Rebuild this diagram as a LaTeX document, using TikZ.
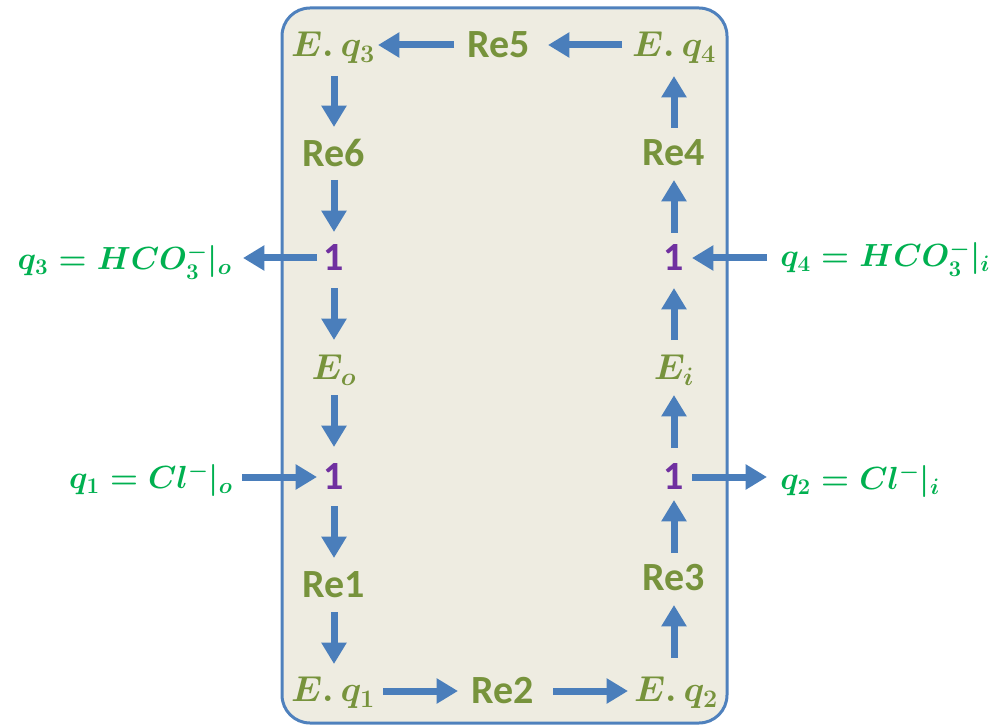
\RequirePackage{fix-cm}
\documentclass[tikz,border=0pt]{standalone}
\usepackage{fontspec}
\usetikzlibrary{arrows.meta}
\newfontfamily\calfont{Carlito}
\definecolor{arrowblue}{HTML}{4A7EBB}
\definecolor{boxblue}{HTML}{4F81BD}
\definecolor{boxfill}{HTML}{EEECE1}
\definecolor{olivetxt}{HTML}{77933C}
\definecolor{greentxt}{HTML}{00B050}
\definecolor{purptxt}{HTML}{7030A0}
\tikzset{
  bx/.style={draw=boxblue, line width=2.25pt, fill=boxfill, rounded corners=21pt},
  arr/.style={draw=arrowblue, line width=5.25pt, -{Triangle[length=16pt,width=18pt]}},
  retxt/.style={text=olivetxt, font=\calfont\bfseries\fontsize{30}{36}\selectfont, inner sep=0pt},
  mtxt/.style={text=olivetxt, font=\fontsize{27}{32}\selectfont\boldmath, inner sep=0pt},
  onetxt/.style={text=purptxt, font=\calfont\bfseries\fontsize{30}{36}\selectfont, inner sep=0pt},
  lbl/.style={text=greentxt, font=\fontsize{24}{29}\selectfont\boldmath, inner sep=0pt}
}
\begin{document}
\begin{tikzpicture}[x=0.75pt,y=-0.75pt]
\useasboundingbox (0,0) rectangle (999,727);
\path[bx] (282,8) rectangle (727,723);
% top row
\node[mtxt] (eq3) at (333,48) {$E.\,q_3$};
\node[retxt] (re5) at (499,45) {Re5};
\node[mtxt] (eq4) at (674,48) {$E.\,q_4$};
% left column
\node[retxt] (re6) at (334,153) {Re6};
\node[onetxt] (one3) at (334,258) {1};
\node[mtxt] (eo) at (334,370) {$E_o$};
\node[onetxt] (one1) at (334,477) {1};
\node[retxt] (re1) at (334,585) {Re1};
\node[mtxt] (eq1) at (333,693) {$E.\,q_1$};
% bottom
\node[retxt] (re2) at (503,691) {Re2};
\node[mtxt] (eq2) at (676,693) {$E.\,q_2$};
% right column
\node[retxt] (re3) at (674,578) {Re3};
\node[onetxt] (one2) at (674,477) {1};
\node[mtxt] (ei) at (674,370) {$E_i$};
\node[onetxt] (one4) at (674,258) {1};
\node[retxt] (re4) at (674,153) {Re4};
% outer labels
\node[lbl, anchor=east] (q3) at (232,262) {$q_3 = HCO_3^-|_o$};
\node[lbl, anchor=west] (q4) at (780,259) {$q_4 = HCO_3^-|_i$};
\node[lbl, anchor=east] (q1) at (233,480) {$q_1 = Cl^-|_o$};
\node[lbl, anchor=west] (q2) at (780,481) {$q_2 = Cl^-|_i$};
% top arrows
\draw[arr, shorten <=33.75pt, shorten >=33.75pt] (re5.center) -- (re5.center -| eq3.center);
\draw[arr, shorten <=39pt, shorten >=36.75pt] (eq4.center |- re5.center) -- (re5.center);
% bottom arrows
\draw[arr, shorten <=37.5pt, shorten >=33.75pt] (eq1.center |- re2.center) -- (re2.center);
\draw[arr, shorten <=37.5pt, shorten >=36pt] (re2.center) -- (re2.center -| eq2.center);
% left column arrows
\draw[arr, shorten <=21pt, shorten >=19.5pt] (eq3.center -| re6.center) -- (re6.center);
\draw[arr, shorten <=20.25pt, shorten >=19.5pt] (re6.center) -- (one3.center);
\draw[arr, shorten <=22.5pt, shorten >=22.5pt] (one3.center) -- (eo.center);
\draw[arr, shorten <=18.75pt, shorten >=22.5pt] (eo.center) -- (one1.center);
\draw[arr, shorten <=21.75pt, shorten >=20.25pt] (one1.center) -- (re1.center);
\draw[arr, shorten <=20.25pt, shorten >=21.75pt] (re1.center) -- (re1.center |- eq1.center);
% right column arrows
\draw[arr, shorten <=26.25pt, shorten >=20.25pt] (re3.center |- eq2.center) -- (re3.center);
\draw[arr, shorten <=18.75pt, shorten >=17.25pt] (re3.center) -- (one2.center);
\draw[arr, shorten <=21.75pt, shorten >=18.75pt] (one2.center) -- (ei.center);
\draw[arr, shorten <=22.5pt, shorten >=22.5pt] (ei.center) -- (one4.center);
\draw[arr, shorten <=18.75pt, shorten >=20.25pt] (one4.center) -- (re4.center);
\draw[arr, shorten <=18.75pt, shorten >=21pt] (re4.center) -- (re4.center |- eq4.center);
% side arrows
\draw[arr, shorten <=12.75pt, shorten >=8.25pt] (one3.center) -- (one3.center -| q3.east);
\draw[arr, shorten <=9.75pt, shorten >=13.5pt] (q4.west |- one4.center) -- (one4.center);
\draw[arr, shorten <=6.75pt, shorten >=12.75pt] (q1.east |- one1.center) -- (one1.center);
\draw[arr, shorten <=13.5pt, shorten >=9.75pt] (one2.center) -- (one2.center -| q2.west);
\end{tikzpicture}
\end{document}
